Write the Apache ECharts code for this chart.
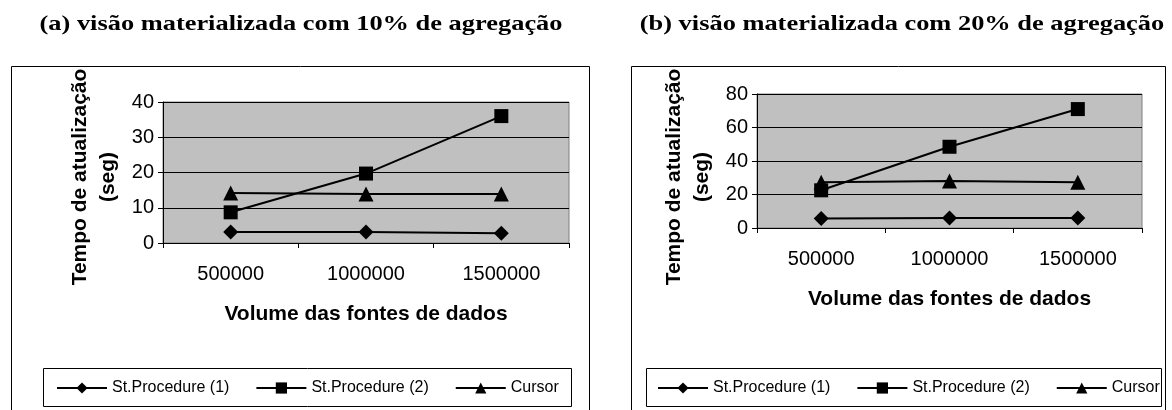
<!DOCTYPE html>
<html>
<head>
<meta charset="utf-8">
<script src="https://cdn.jsdelivr.net/npm/echarts@6/dist/echarts.min.js"></script>
<style>
  html, body { margin: 0; padding: 0; background: #fff; }
  #main { width: 1172px; height: 410px; }
</style>
</head>
<body>
<div id="main"></div>
<script>
// dados
var volumes = ['500000', '1000000', '1500000'];
var seriesNames = ['St.Procedure (1)', 'St.Procedure (2)', 'Cursor'];

// (a) 10% de agregação
var proc1A = [3.1, 3.1, 2.8];
var proc2A = [8.7, 19.7, 36];
var cursorA = [14.2, 13.9, 13.9];

// (b) 20% de agregação
var proc1B = [5.6, 6, 6];
var proc2B = [22.5, 48.5, 71];
var cursorB = [27.3, 28, 27.3];

var titleA = '(a) visão materializada com 10% de agregação';
var titleB = '(b) visão materializada com 20% de agregação';
var yName = 'Tempo de atualização\n(seg)';
var xName = 'Volume das fontes de dados';

var chart = echarts.init(document.getElementById('main'));

var sans = 'Liberation Sans, Arial, sans-serif';
var serif = 'Liberation Serif, Times New Roman, serif';
var symbols = ['diamond', 'rect', 'triangle'];
var symbolSizes = [[15, 15], 14, [15, 15]];

function makeX(idx) {
	return {
		type : 'category',
		gridIndex : idx,
		data : volumes,
		boundaryGap : true,
		axisLine : { lineStyle : { color : '#000', width : 1 } },
		axisTick : { show : true, length : 5, lineStyle : { color : '#000' } },
		axisLabel : { color : '#000', fontFamily : sans, fontSize : 20, margin : 21 },
		name : xName,
		nameLocation : 'middle',
		nameGap : 61,
		nameTextStyle : { color : '#000', fontFamily : sans, fontSize : 21, fontWeight : 'bold' }
	};
}

// shift: desloca o nome do eixo para baixo (padding à direita no texto girado)
function makeY(idx, max, interval, shift) {
	return {
		type : 'value',
		gridIndex : idx,
		min : 0,
		max : max,
		interval : interval,
		axisLine : { show : true, lineStyle : { color : '#000', width : 1 } },
		axisTick : { show : true, length : 5, lineStyle : { color : '#000' } },
		axisLabel : { color : '#000', fontFamily : sans, fontSize : 20, margin : 9 },
		splitLine : { show : true, lineStyle : { color : '#000', width : 1 } },
		name : yName,
		nameLocation : 'middle',
		nameRotate : 90,
		nameGap : 41,
		nameTextStyle : { color : '#000', fontFamily : sans, fontSize : 21, fontWeight : 'bold', lineHeight : 28, padding : [0, shift, 0, 0] }
	};
}

function makeSeries(idx, datas) {
	return datas.map(function(d, i) {
		return {
			name : seriesNames[i],
			type : 'line',
			xAxisIndex : idx,
			yAxisIndex : idx,
			data : d,
			symbol : symbols[i],
			symbolSize : symbolSizes[i],
			showAllSymbol : true,
			lineStyle : { color : '#000', width : 2 },
			itemStyle : { color : '#000' },
			animation : false
		};
	});
}

function makeLegend(left) {
	return {
		left : left,
		top : 380,
		padding : 0,
		itemWidth : 50,
		itemHeight : 14,
		itemGap : 26,
		textStyle : { color : '#000', fontFamily : sans, fontSize : 16 },
		data : seriesNames
	};
}

// títulos levemente esticados na horizontal como no original
function makeTitle(text, x) {
	return {
		type : 'text',
		silent : true,
		x : x,
		y : 24,
		scaleX : 1.2,
		style : {
			text : text,
			fill : '#000',
			font : 'bold 22px ' + serif,
			textAlign : 'center',
			textVerticalAlign : 'middle'
		}
	};
}

function box(x, y, w, h) {
	return { type : 'rect', silent : true, z : -10, shape : { x : x, y : y, width : w, height : h },
		style : { fill : null, stroke : '#000', lineWidth : 1 } };
}

option = {
	backgroundColor : '#fff',
	animation : false,
	grid : [ {
		left : 163, top : 102, width : 406, height : 141,
		show : true, backgroundColor : '#c0c0c0', borderColor : '#808080', borderWidth : 1
	}, {
		left : 757, top : 94, width : 385, height : 134,
		show : true, backgroundColor : '#c0c0c0', borderColor : '#808080', borderWidth : 1
	} ],
	xAxis : [ makeX(0), makeX(1) ],
	yAxis : [ makeY(0, 40, 10, 9), makeY(1, 80, 20, 32) ],
	legend : [ makeLegend(56), makeLegend(657) ],
	series : makeSeries(0, [proc1A, proc2A, cursorA]).concat(makeSeries(1, [proc1B, proc2B, cursorB])),
	graphic : [
		makeTitle(titleA, 301),
		makeTitle(titleB, 902),
		// caixas externas
		box(11.5, 66.5, 578, 360),
		box(631.5, 66.5, 534, 360),
		// caixas das legendas
		box(43.5, 368.5, 528, 38),
		box(646.5, 368.5, 515, 38)
	]
};

chart.setOption(option);
</script>
</body>
</html>
